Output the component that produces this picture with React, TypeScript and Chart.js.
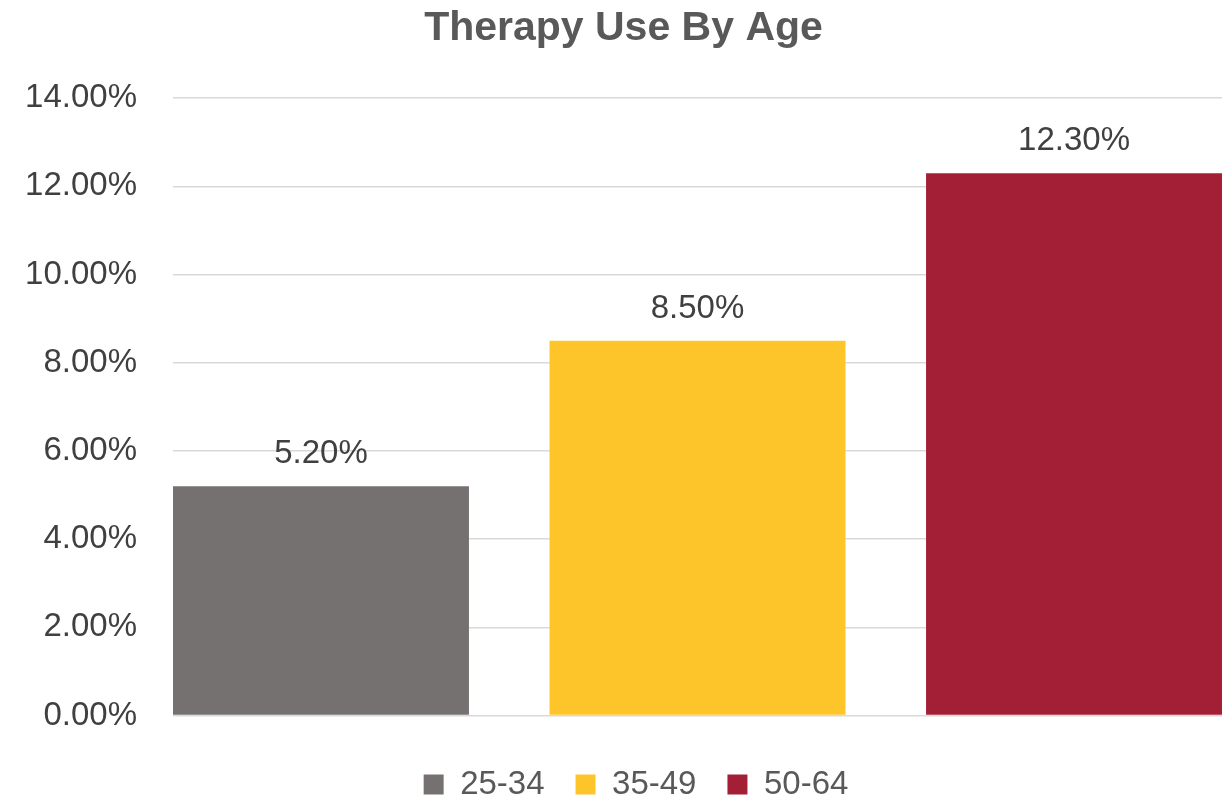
import React, { useEffect, useRef } from "react";
import { Chart, registerables } from "chart.js";

Chart.register(...registerables);

const TITLE = "Therapy Use By Age";
const categories = ["25-34", "35-49", "50-64"];
const values = [5.2, 8.5, 12.3];
const colors = ["#767171", "#FEC52B", "#A31F36"];
const yTicks = [0, 2, 4, 6, 8, 10, 12, 14];

const FONT = "'Liberation Sans', Arial, sans-serif";

const dataLabelPlugin = {
  id: "dataLabels",
  afterDatasetsDraw(chart: any) {
    const ctx = chart.ctx;
    ctx.save();
    ctx.font = `33px ${FONT}`;
    ctx.fillStyle = "#404040";
    ctx.textAlign = "center";
    ctx.textBaseline = "alphabetic";
    chart.data.datasets.forEach((ds: any, di: number) => {
      const meta = chart.getDatasetMeta(di);
      meta.data.forEach((bar: any, i: number) => {
        const v = ds.data[i].y;
        ctx.fillText(v.toFixed(2) + "%", bar.x, bar.y - 23);
      });
    });
    ctx.restore();
  },
};

const legendShiftPlugin = {
  id: "legendShift",
  beforeLayout(chart: any) {
    const lg = chart.legend;
    if (lg && !lg._shiftPatched) {
      const orig = lg.fit.bind(lg);
      lg.fit = () => {
        orig();
        lg.height -= 14;
      };
      lg._shiftPatched = true;
    }
  },
  afterLayout(chart: any) {
    const lg = chart.legend;
    if (lg) {
      lg.left += 25;
    }
  },
};

export default function App() {
  const ref = useRef<HTMLCanvasElement>(null);
  useEffect(() => {
    const half = 0.393;
    const chart = new Chart(ref.current!, {
      type: "bar",
      data: {
        datasets: categories.map((c, i) => ({
          label: c,
          data: [{ x: i, y: values[i] }],
          backgroundColor: colors[i],
          borderWidth: 0,
          grouped: false,
          barPercentage: 0.786,
          categoryPercentage: 1,
        })) as any,
      },
      options: {
        animation: false,
        responsive: true,
        maintainAspectRatio: false,
        layout: { padding: { left: 25, right: 8, top: 0, bottom: 0 } },
        plugins: {
          title: {
            display: true,
            text: TITLE,
            color: "#595959",
            font: { family: FONT, size: 41, weight: "bold" },
            padding: { top: 4, bottom: 45 },
          },
          legend: {
            display: true,
            position: "bottom",
            labels: {
              boxWidth: 20,
              boxHeight: 20,
              padding: 31,
              color: "#595959",
              font: { family: FONT, size: 33 },
            },
          },
          tooltip: { enabled: false },
        },
        scales: {
          x: {
            type: "linear",
            display: true,
            min: -half,
            max: categories.length - 1 + half,
            offset: false,
            grid: { display: false },
            border: { display: false },
            ticks: { display: false },
            afterBuildTicks: (scale: any) => {
              scale.ticks = categories.map((_, i) => ({ value: i }));
            },
            afterFit: (scale: any) => {
              scale.height = 21.5;
            },
          },
          y: {
            min: yTicks[0],
            max: yTicks[yTicks.length - 1],
            afterBuildTicks: (scale: any) => {
              scale.ticks = yTicks.map((v) => ({ value: v }));
            },
            afterFit: (scale: any) => {
              scale.width = 148;
            },
            border: { display: false },
            grid: { color: "#d9d9d9", lineWidth: 1.5, drawTicks: false },
            ticks: {
              padding: 36,
              color: "#404040",
              font: { family: FONT, size: 33 },
              callback: (v: any) => Number(v).toFixed(2) + "%",
            },
          },
        },
      },
      plugins: [dataLabelPlugin, legendShiftPlugin],
    } as any);
    return () => chart.destroy();
  }, []);
  return (
    <div style={{ position: "absolute", left: 0, top: 0, width: 1230, height: 797, background: "#fff" }}>
      <canvas ref={ref} />
    </div>
  );
}
